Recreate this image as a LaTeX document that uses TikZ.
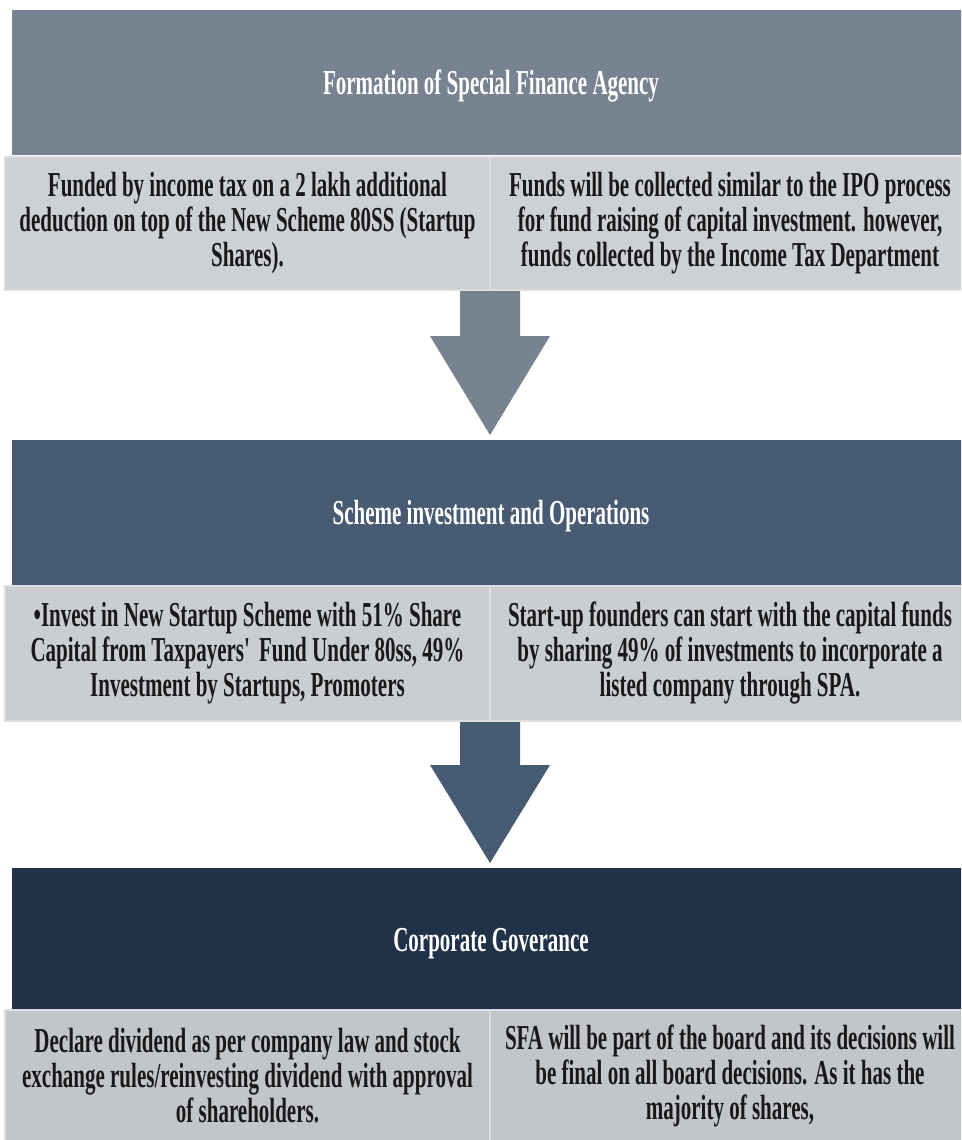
\documentclass[tikz,border=0pt]{standalone}
\usepackage{fontspec}
\setmainfont{Liberation Serif}[FakeStretch=0.6]
\usetikzlibrary{calc}
\definecolor{headA}{HTML}{778390}
\definecolor{headB}{HTML}{475B72}
\definecolor{headC}{HTML}{1F3248}
\definecolor{subA}{HTML}{CDD0D4}
\definecolor{subB}{HTML}{CACDD1}
\definecolor{subC}{HTML}{C2C5C9}
\definecolor{rim}{HTML}{DCDEE1}
\begin{document}
\begin{tikzpicture}[x=1pt,y=-1pt,
    head/.style={anchor=north west,inner sep=0pt,outer sep=0pt,minimum width=958pt,
      text height=32pt,text depth=8pt,
      text=white,font=\bfseries\fontsize{35}{35}\selectfont},
    sub/.style={anchor=north west,inner sep=0pt,outer sep=0pt,draw=rim,line width=2pt,
      align=center,text=black!90,font=\bfseries\fontsize{35}{35}\selectfont}]
  \useasboundingbox (0,0) rectangle (961,1140);
  \clip (0,0) rectangle (961,1140);
  \node[head,minimum height=145pt,fill=headA] (h1) at (12,10) {Formation of Special Finance Agency};
  \node[sub,minimum width=485pt,minimum height=133pt,fill=subA] (s1l) at (5,157)
    {Funded by income tax on a 2 lakh additional\\deduction on top of the New Scheme 80SS (Startup\\Shares).};
  \node[sub,minimum width=480pt,minimum height=133pt,fill=subA] (s1r) at (490,157)
    {Funds will be collected similar to the IPO process\\for fund raising of capital investment. however,\\funds collected by the Income Tax Department};
  \node[head,minimum height=145pt,fill=headB] (h2) at (12,440) {Scheme investment and Operations};
  \node[sub,minimum width=485pt,minimum height=135pt,fill=subB] (s2l) at (5,586)
    {•Invest in New Startup Scheme with 51\% Share\\Capital from Taxpayers\textquotesingle\ Fund Under 80ss, 49\%\\Investment by Startups, Promoters};
  \node[sub,minimum width=480pt,minimum height=135pt,fill=subB] (s2r) at (490,586)
    {Start-up founders can start with the capital funds\\by sharing 49\% of investments to incorporate a\\listed company through SPA.};
  \node[head,minimum height=142pt,fill=headC] (h3) at (12,868) {Corporate Goverance};
  \node[sub,minimum width=485pt,minimum height=132pt,fill=subC] (s3l) at (5,1010)
    {Declare dividend as per company law and stock\\exchange rules/reinvesting dividend with approval\\of shareholders.};
  \node[sub,minimum width=480pt,minimum height=132pt,fill=subC] (s3r) at (490,1010)
    {SFA will be part of the board and its decisions will\\be final on all board decisions. As it has the\\majority of shares,};
  \coordinate (a1) at (s1l.south east);
  \coordinate (t1) at ($(h2.north -| a1)+(0,-5)$);
  \fill[headA] ($(a1)+(-30,1)$) -- ($(a1)+(30,1)$) -- ($(a1)+(30,46)$) -- ($(a1)+(60,46)$)
    -- (t1) -- ($(a1)+(-60,46)$) -- ($(a1)+(-30,46)$) -- cycle;
  \coordinate (a2) at (s2l.south east);
  \coordinate (t2) at ($(h3.north -| a2)+(0,-5)$);
  \fill[headB] ($(a2)+(-30,1)$) -- ($(a2)+(30,1)$) -- ($(a2)+(30,44)$) -- ($(a2)+(60,44)$)
    -- (t2) -- ($(a2)+(-60,44)$) -- ($(a2)+(-30,44)$) -- cycle;
\end{tikzpicture}
\end{document}
